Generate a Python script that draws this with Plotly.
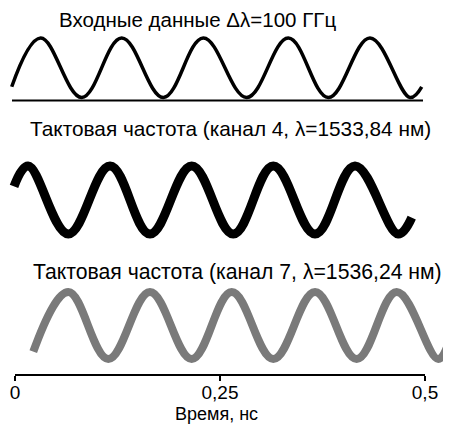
import plotly.graph_objects as go

# ---- data (time in ns, relative signal level 0..1) ----
in_t = [-0.0040, 0.0313, 0.0813, 0.1301, 0.1809, 0.2296, 0.2826, 0.3333, 0.3821, 0.4329, 0.4817, 0.4960]
in_v = [0.18, 1.0, 0.0, 1.0, 0.0, 1.0, 0.0, 1.0, 0.0, 1.0, 0.0, 0.18]

ch4_t = [-0.0012, 0.0159, 0.0650, 0.1159, 0.1646, 0.2155, 0.2662, 0.3150, 0.3659, 0.4146, 0.4674, 0.4838]
ch4_v = [0.70, 1.0, 0.0, 1.0, 0.0, 1.0, 0.0, 1.0, 0.0, 1.0, 0.0, 0.24]

ch7_t = [0.0223, 0.0650, 0.1138, 0.1646, 0.2155, 0.2643, 0.3150, 0.3659, 0.4167, 0.4655, 0.5162, 0.5305]
ch7_v = [0.11, 1.0, 0.0, 1.0, 0.0, 1.0, 0.0, 1.0, 0.0, 1.0, 0.0, 0.31]

tick_vals = [0, 0.25, 0.5]
tick_text = ["0", "0,25", "0,5"]

titles = ["Входные данные Δλ=100 ГГц",
          "Тактовая частота (канал 4, λ=1533,84 нм)",
          "Тактовая частота (канал 7, λ=1536,24 нм)"]
x_title = "Время, нс"

# page has an 8px body margin, so the figure is shrunk and coordinates offset
OFF = 8
W, H = 451 - OFF, 424 - OFF
X0, PXNS = 15, 820  # reference pixel of t=0, pixels per ns
FONT = "Liberation Sans, Arial, sans-serif"


def px(x):
    return (x - OFF) / W


def py(y):
    return 1 - (y - OFF) / H


def dom(top, bot):
    return [py(bot), py(top)]


def rng(top, bot, peak, trough):
    amp = trough - peak
    return [-(bot - trough) / amp, 1 + (peak - top) / amp]


fig = go.Figure()

# invisible trace for the time axis
fig.add_trace(go.Scatter(x=[0, 0.5], y=[0, 0], mode="lines", line=dict(width=0),
                         hoverinfo="skip", showlegend=False, xaxis="x", yaxis="y"))

fig.add_trace(go.Scatter(x=in_t, y=in_v, mode="lines", line=dict(color="black", width=3.5, shape="spline", smoothing=1.1),
                         showlegend=False, xaxis="x2", yaxis="y2"))
fig.add_trace(go.Scatter(x=ch4_t, y=ch4_v, mode="lines", line=dict(color="black", width=9, shape="spline", smoothing=1.1),
                         showlegend=False, xaxis="x2", yaxis="y3"))
fig.add_trace(go.Scatter(x=ch7_t, y=ch7_v, mode="lines", line=dict(color="#7a7a7a", width=8, shape="spline", smoothing=1.1),
                         showlegend=False, xaxis="x2", yaxis="y4"))

hidden = dict(visible=False, showgrid=False, zeroline=False, fixedrange=True, automargin=False)

fig.update_layout(
    width=W, height=H,
    margin=dict(l=0, r=0, t=0, b=0, autoexpand=False),
    paper_bgcolor="white", plot_bgcolor="rgba(0,0,0,0)",
    font=dict(family=FONT, color="black", size=18),
    xaxis=dict(domain=[px(X0), px(X0 + 0.5 * PXNS)], range=[0, 0.5], anchor="y", automargin=False,
               showline=True, linecolor="black", linewidth=2, ticks="outside", ticklen=5, tickwidth=2,
               tickcolor="black", tickvals=tick_vals, ticktext=tick_text, showgrid=False, zeroline=False,
               tickfont=dict(size=19, family=FONT), ticklabelstandoff=-4),
    yaxis=dict(domain=dom(368, 373.5), range=[0, 1], **hidden),
    xaxis2=dict(domain=[0, 1], range=[(OFF - X0) / PXNS, (451 - X0) / PXNS], anchor="y2", **hidden),
    yaxis2=dict(domain=dom(30, 105), range=rng(30, 105, 38, 97.5), anchor="x2", **hidden),
    yaxis3=dict(domain=dom(156, 244), range=rng(156, 244, 166, 234), anchor="x2", **hidden),
    yaxis4=dict(domain=dom(282, 369), range=rng(282, 369, 292, 359), anchor="x2", **hidden),
    shapes=[dict(type="line", xref="x2", yref="paper", x0=(12 - X0) / PXNS, x1=(423 - X0) / PXNS,
                 y0=py(100.5), y1=py(100.5), line=dict(color="black", width=2))],
    annotations=[
        dict(text=titles[0], x=px(197), y=py(19), xref="paper", yref="paper", showarrow=False,
             xanchor="center", yanchor="middle", font=dict(size=20.5, family=FONT)),
        dict(text=titles[1], x=px(230), y=py(129), xref="paper", yref="paper", showarrow=False,
             xanchor="center", yanchor="middle", font=dict(size=20.8, family=FONT)),
        dict(text=titles[2], x=px(237), y=py(272), xref="paper", yref="paper", showarrow=False,
             xanchor="center", yanchor="middle", font=dict(size=21.2, family=FONT)),
        dict(text=x_title, x=px(216), y=py(414), xref="paper", yref="paper", showarrow=False,
             xanchor="center", yanchor="middle", font=dict(size=18, family=FONT)),
    ],
)

fig.write_html("out.html")
